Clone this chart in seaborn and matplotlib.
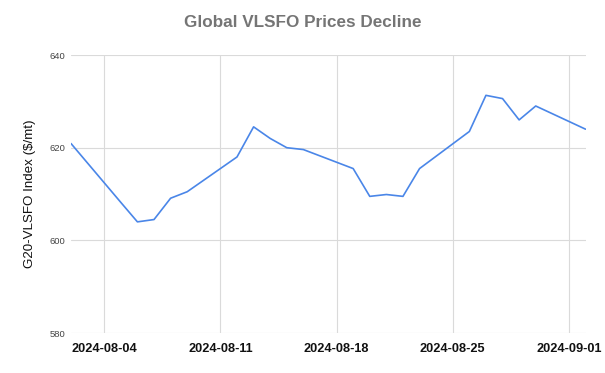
import pandas as pd
import matplotlib.pyplot as plt
import matplotlib.dates as mdates
import seaborn as sns

# Data (business days only)
dates = ['2024-08-02', '2024-08-05', '2024-08-06', '2024-08-07', '2024-08-08',
         '2024-08-09', '2024-08-12', '2024-08-13', '2024-08-14', '2024-08-15',
         '2024-08-16', '2024-08-19', '2024-08-20', '2024-08-21', '2024-08-22',
         '2024-08-23', '2024-08-26', '2024-08-27', '2024-08-28', '2024-08-29',
         '2024-08-30', '2024-09-02']
prices = [620.9, 608.2, 604.0, 604.5, 609.1,
          610.5, 618.0, 624.5, 622.0, 620.0,
          619.6, 615.5, 609.5, 609.9, 609.5,
          615.5, 623.5, 631.3, 630.6, 626.0,
          629.0, 624.0]
x_ticks = ['2024-08-04', '2024-08-11', '2024-08-18', '2024-08-25', '2024-09-01']
y_ticks = [580, 600, 620, 640]

df = pd.DataFrame({'date': pd.to_datetime(dates), 'price': prices})

sns.set_style("white")
plt.rcParams['font.family'] = ['Liberation Sans', 'DejaVu Sans']

fig = plt.figure(figsize=(6.05, 3.73), dpi=100)
ax = fig.add_axes([0.1174, 0.107, 0.8504, 0.7455])

sns.lineplot(data=df, x='date', y='price', ax=ax, color='#4a86e8', linewidth=1.2)

ax.set_xlim(pd.Timestamp('2024-08-02'), pd.Timestamp('2024-09-02'))
ax.set_ylim(580, 640)
ax.set_xticks(pd.to_datetime(x_ticks))
ax.xaxis.set_major_formatter(mdates.DateFormatter('%Y-%m-%d'))
ax.set_yticks(y_ticks)

ax.grid(True, color='#dadada', linewidth=0.8)
ax.set_axisbelow(True)
for s in ax.spines.values():
    s.set_visible(False)

ax.tick_params(axis='x', length=0, pad=7, labelsize=9.2, labelcolor='#111111')
ax.tick_params(axis='y', length=0, pad=4, labelsize=6.8, labelcolor='#444444')
for lbl in ax.get_xticklabels():
    lbl.set_fontweight('bold')

ax.set_xlabel('')
ax.set_ylabel('G20-VLSFO Index ($/mt)', fontsize=9.6, color='#111111', labelpad=10)
fig.text(0.5, 0.94, 'Global VLSFO Prices Decline', ha='center', va='center',
         fontsize=12.3, fontweight='bold', color='#757575')

fig.savefig('out.png', dpi=100)
